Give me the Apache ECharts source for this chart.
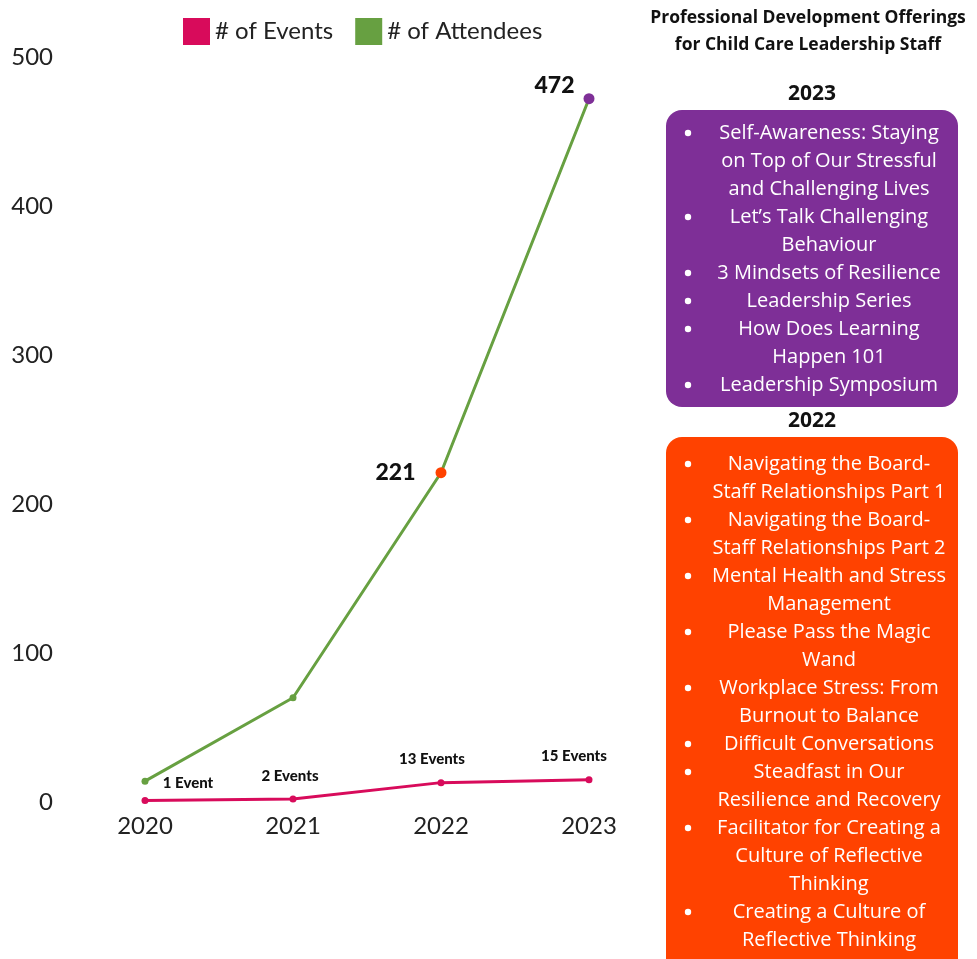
<!DOCTYPE html>
<html>
<head>
<meta charset="utf-8">
<script src="https://cdn.jsdelivr.net/npm/echarts@6/dist/echarts.min.js"></script>
<style>
html, body { margin: 0; padding: 0; background: #fff; }
#chart { width: 977px; height: 959px; }
</style>
</head>
<body>
<div id="chart"></div>
<script>
var years = ['2020', '2021', '2022', '2023'];
var events = [1, 2, 13, 15];
var attendees = [14, 70, 221, 472];
var eventLabels = ['1 Event', '2 Events', '13 Events', '15 Events'];
var yTicks = [0, 100, 200, 300, 400, 500];

var offerings2023 = [
    'Self-Awareness: Staying\non Top of Our Stressful\nand Challenging Lives',
    'Let\u2019s Talk Challenging\nBehaviour',
    '3 Mindsets of Resilience',
    'Leadership Series',
    'How Does Learning\nHappen 101',
    'Leadership Symposium'
];
var offerings2022 = [
    'Navigating the Board-\nStaff Relationships Part 1',
    'Navigating the Board-\nStaff Relationships Part 2',
    'Mental Health and Stress\nManagement',
    'Please Pass the Magic\nWand',
    'Workplace Stress: From\nBurnout to Balance',
    'Difficult Conversations',
    'Steadfast in Our\nResilience and Recovery',
    'Facilitator for Creating a\nCulture of Reflective\nThinking',
    'Creating a Culture of\nReflective Thinking'
];

var RED = '#d80b5b';
var GREEN = '#67a041';
var PURPLE = '#7e2f97';
var ORANGE = '#ff4200';
var FONT = 'Lato';
var PANEL_FONT = '"Open Sans"';

var chart = echarts.init(document.getElementById('chart'));

// label offsets for the event series, just to keep them off the line
var eventOffsets = [[43, 0], [-3, 0], [-9, 0], [-15, 0]];

function listGraphic(items, firstY) {
    var out = [];
    var y = firstY;
    items.forEach(function (txt) {
        var n = txt.split('\n').length;
        out.push({
            type: 'circle',
            shape: { cx: 688, cy: y, r: 3.2 },
            style: { fill: '#fff' }
        });
        out.push({
            type: 'text',
            x: 829, y: y - 14,
            style: {
                text: txt,
                fill: '#fff',
                font: '20px ' + PANEL_FONT,
                lineHeight: 28,
                align: 'center',
                verticalAlign: 'top'
            }
        });
        y += n * 28;
    });
    return out;
}

var graphics = [
    { type: 'text', x: 808, y: 5, style: { text: 'Professional Development Offerings\nfor Child Care Leadership Staff', font: 'bold 17.5px ' + PANEL_FONT, fill: '#111', align: 'center', lineHeight: 27 } },
    { type: 'text', x: 812, y: 84, style: { text: '2023', font: 'bold 21px ' + PANEL_FONT, fill: '#111', align: 'center' } },
    { type: 'rect', shape: { x: 666, y: 110, width: 292, height: 297, r: 16 }, style: { fill: PURPLE } },
    { type: 'text', x: 812, y: 411, style: { text: '2022', font: 'bold 21px ' + PANEL_FONT, fill: '#111', align: 'center' } },
    { type: 'rect', shape: { x: 666, y: 437, width: 292, height: 540, r: 16 }, style: { fill: ORANGE } }
].concat(listGraphic(offerings2023, 133)).concat(listGraphic(offerings2022, 464));

var option = {
    backgroundColor: '#fff',
    animation: false,
    textStyle: { fontFamily: FONT },
    legend: {
        top: 13,
        left: 178,
        itemWidth: 27,
        itemHeight: 27,
        itemGap: 22,
        icon: 'rect',
        textStyle: { fontSize: 24, color: '#222', fontFamily: FONT },
        data: [
            { name: '# of Events', itemStyle: { color: RED } },
            { name: '# of Attendees', itemStyle: { color: GREEN } }
        ]
    },
    grid: { left: 71, width: 592, top: 57, bottom: 157 },
    xAxis: {
        type: 'category',
        data: years,
        boundaryGap: true,
        axisLine: { show: false },
        axisTick: { show: false },
        axisLabel: { fontSize: 24, color: '#222', margin: 12, fontFamily: FONT }
    },
    yAxis: {
        type: 'value',
        min: yTicks[0],
        max: yTicks[yTicks.length - 1],
        interval: 100,
        splitLine: { show: false },
        axisLine: { show: false },
        axisTick: { show: false },
        axisLabel: { fontSize: 24, color: '#222', margin: 18, fontFamily: FONT }
    },
    series: [
        {
            name: '# of Events',
            type: 'line',
            data: events.map(function (v, i) {
                return {
                    value: v,
                    label: {
                        show: true,
                        formatter: eventLabels[i],
                        position: 'top',
                        distance: i === 0 ? 6 : 12,
                        offset: eventOffsets[i],
                        fontSize: 15,
                        fontWeight: 900,
                        color: '#111'
                    }
                };
            }),
            color: RED,
            symbol: 'circle',
            symbolSize: 7,
            lineStyle: { width: 3, color: RED },
            itemStyle: { color: RED }
        },
        {
            name: '# of Attendees',
            type: 'line',
            data: attendees.map(function (v, i) {
                var d = { value: v };
                if (i === 2) {
                    d.symbolSize = 11;
                    d.itemStyle = { color: ORANGE };
                    d.label = { show: true, position: 'left', distance: 20, fontSize: 23, fontWeight: 900, color: '#111' };
                }
                if (i === 3) {
                    d.symbolSize = 11;
                    d.itemStyle = { color: PURPLE };
                    d.label = { show: true, position: 'left', distance: 9, offset: [0, -13], fontSize: 23, fontWeight: 900, color: '#111' };
                }
                return d;
            }),
            color: GREEN,
            symbol: 'circle',
            symbolSize: 7,
            lineStyle: { width: 3, color: GREEN },
            itemStyle: { color: GREEN }
        }
    ],
    graphic: graphics
};

chart.setOption(option);
window.onresize = function () { chart.resize(); };
</script>
</body>
</html>
